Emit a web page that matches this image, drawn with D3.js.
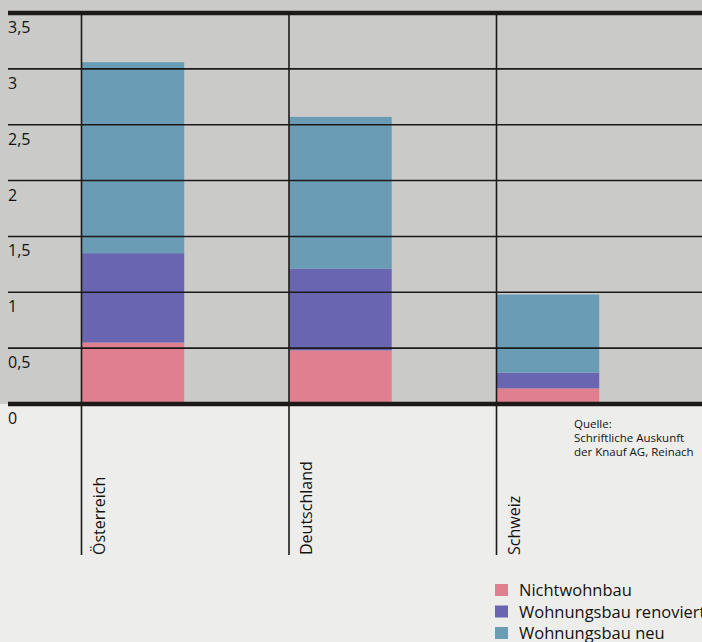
<!DOCTYPE html>
<html>
<head>
<meta charset="utf-8">
<script src="https://cdn.jsdelivr.net/npm/d3@7"></script>
<style>
  html, body { margin: 0; padding: 0; background: #edeeec; }
  svg { display: block; }
  text { font-family: "Open Sans", "Noto Sans", sans-serif; fill: #141210; }
</style>
</head>
<body>
<svg id="chart" width="702" height="642"></svg>
<script>
/*global d3 */

var countries = ['Österreich', 'Deutschland', 'Schweiz'];
var seriesNames = ['Nichtwohnbau', 'Wohnungsbau renoviert', 'Wohnungsbau neu'];
var nichtwohnbau = [0.55, 0.48, 0.14];
var renoviert = [0.80, 0.73, 0.14];
var neu = [1.71, 1.36, 0.70];
var yTicks = [0, 0.5, 1, 1.5, 2, 2.5, 3, 3.5];
var sourceLines = ['Quelle:', 'Schriftliche Auskunft', 'der Knauf AG, Reinach'];

var colors = ['#df7f8f', '#6a65b0', '#6a9cb6'];

var chartWidth = 702;
var plotLeft = 8;
var plotBase = 404;
var plotTop = 13;

var svg = d3.select('#chart');

var y = d3.scaleLinear()
    .domain([0, 3.5])
    .range([plotBase, plotTop]);

var x = d3.scaleBand()
    .domain(countries)
    .range([81.5, 81.5 + 3 * 207.5])
    .paddingInner(0)
    .align(0);

var barWidth = x.bandwidth() * 0.495;

// grey plot field
svg.append('rect')
    .attr('x', 0)
    .attr('y', 0)
    .attr('width', chartWidth)
    .attr('height', plotBase)
    .attr('fill', '#cacac8');

// stacked bars
var rows = countries.map(function (c, i) {
    return {
        country: c,
        Nichtwohnbau: nichtwohnbau[i],
        'Wohnungsbau renoviert': renoviert[i],
        'Wohnungsbau neu': neu[i]
    };
});

var stacked = d3.stack().keys(seriesNames)(rows);

svg.append('g')
    .selectAll('g')
    .data(stacked)
    .join('g')
    .attr('fill', function (d, i) { return colors[i]; })
    .selectAll('rect')
    .data(function (d) { return d; })
    .join('rect')
    .attr('x', function (d) { return x(d.data.country); })
    .attr('y', function (d) { return y(d[1]); })
    .attr('width', barWidth)
    .attr('height', function (d) { return y(d[0]) - y(d[1]); });

// horizontal grid lines + labels
var grid = svg.append('g');

grid.selectAll('line')
    .data(yTicks)
    .join('line')
    .attr('x1', plotLeft)
    .attr('x2', chartWidth)
    .attr('y1', function (d) { return y(d); })
    .attr('y2', function (d) { return y(d); })
    .attr('stroke', '#1c1a18')
    .attr('stroke-width', function (d) { return (d === 0 || d === 3.5) ? 4.5 : 1.6; });

grid.selectAll('text')
    .data(yTicks)
    .join('text')
    .attr('x', plotLeft)
    .attr('y', function (d) { return y(d) + 20; })
    .style('font-size', '16px')
    .text(function (d) { return String(d).replace('.', ','); });

// vertical separators and country labels
var cats = svg.append('g');

cats.selectAll('line')
    .data(countries)
    .join('line')
    .attr('x1', function (d) { return x(d); })
    .attr('x2', function (d) { return x(d); })
    .attr('y1', plotTop)
    .attr('y2', 555)
    .attr('stroke', '#1c1a18')
    .attr('stroke-width', 1.6);

cats.selectAll('text')
    .data(countries)
    .join('text')
    .attr('transform', function (d) { return 'translate(' + (x(d) + 23) + ',555) rotate(-90)'; })
    .style('font-size', '16px')
    .text(function (d) { return d; });

// source note
svg.append('g')
    .selectAll('text')
    .data(sourceLines)
    .join('text')
    .attr('x', 574)
    .attr('y', function (d, i) { return 428 + i * 14; })
    .style('font-size', '11.5px')
    .text(function (d) { return d; });

// legend
var legend = svg.append('g')
    .selectAll('g')
    .data(seriesNames)
    .join('g')
    .attr('transform', function (d, i) { return 'translate(495,' + (596 + i * 21.5) + ')'; });

legend.append('rect')
    .attr('x', 0)
    .attr('y', -12)
    .attr('width', 13)
    .attr('height', 12)
    .attr('fill', function (d, i) { return colors[i]; });

legend.append('text')
    .attr('x', 24)
    .attr('y', 0)
    .style('font-size', '16.5px')
    .text(function (d) { return d; });
</script>
</body>
</html>
